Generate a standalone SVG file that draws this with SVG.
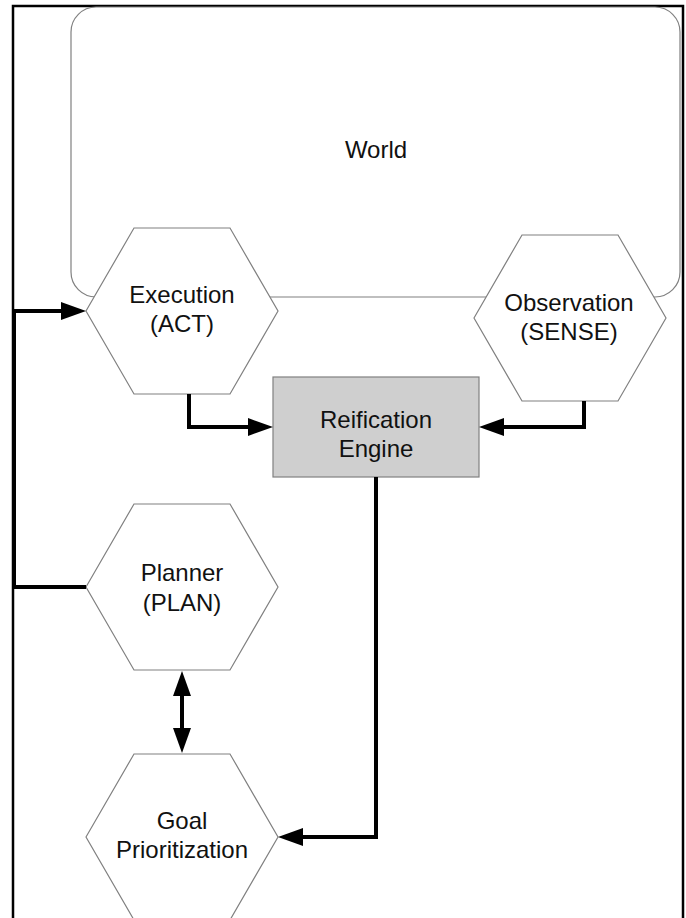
<svg xmlns="http://www.w3.org/2000/svg" width="686" height="918" viewBox="0 0 686 918">
<style>
.hex{fill:#fff;stroke:#808080;stroke-width:1.2}
.lbl{font-family:"Liberation Sans",Arial,sans-serif;font-size:24px;fill:#111;text-anchor:middle}
.con{fill:none;stroke:#000;stroke-width:4}
</style>
<defs>
<marker id="ah" viewBox="0 0 25 18" markerWidth="25" markerHeight="18" refX="0" refY="9" markerUnits="userSpaceOnUse" orient="auto-start-reverse">
<path d="M0,0 L25,9 L0,18 z" fill="#000"/>
</marker>
</defs>
<rect x="0" y="0" width="686" height="918" fill="#fff"/>
<rect id="frame" x="13" y="6" width="670" height="925" fill="none" stroke="#000" stroke-width="2.5"/>
<g id="world">
<rect x="71" y="7" width="609" height="290" rx="25" ry="25" fill="#fff" stroke="#808080" stroke-width="1.2"/>
<text class="lbl" x="376" y="158">World</text>
</g>
<g id="execution">
<polygon class="hex" points="86,311 134,228 230,228 278,311 230,394 134,394"/>
<text class="lbl" x="182" y="303">Execution</text>
<text class="lbl" x="182" y="332">(ACT)</text>
</g>
<g id="observation">
<polygon class="hex" points="474,318 522,235 618,235 666,318 618,401 522,401"/>
<text class="lbl" x="569" y="311">Observation</text>
<text class="lbl" x="569" y="340">(SENSE)</text>
</g>
<g id="reification">
<rect x="273" y="377" width="206" height="100" fill="#cfcfcf" stroke="#808080" stroke-width="1.2"/>
<text class="lbl" x="376" y="428">Reification</text>
<text class="lbl" x="376" y="457">Engine</text>
</g>
<g id="planner">
<polygon class="hex" points="86,587 134,504 230,504 278,587 230,670 134,670"/>
<text class="lbl" x="182" y="581">Planner</text>
<text class="lbl" x="182" y="611">(PLAN)</text>
</g>
<g id="goal">
<polygon class="hex" points="86,837 134,754 230,754 278,837 230,920 134,920"/>
<text class="lbl" x="182" y="829">Goal</text>
<text class="lbl" x="182" y="858">Prioritization</text>
</g>
<g id="connectors">
<path class="con" d="M86,587 H14 V311 H61" marker-end="url(#ah)"/>
<path class="con" d="M189,394 V427 H248" marker-end="url(#ah)"/>
<path class="con" d="M584,401 V427 H504" marker-end="url(#ah)"/>
<path class="con" d="M376,477 V837 H303" marker-end="url(#ah)"/>
<path class="con" d="M182,696 V728" marker-start="url(#ah)" marker-end="url(#ah)"/>
</g>
</svg>
